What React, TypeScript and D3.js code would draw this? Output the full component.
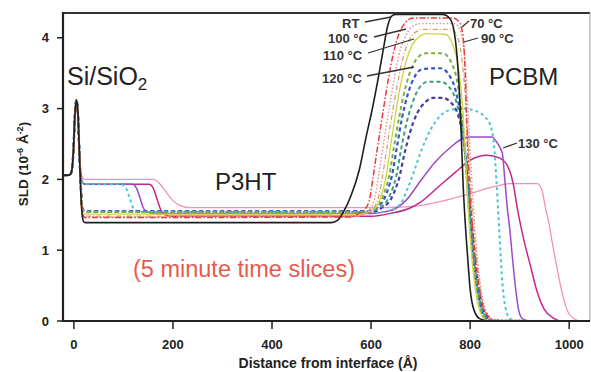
import React from 'react';
import * as d3 from 'd3';

// SLD profiles, [distance (Å), SLD (1e-6 Å^-2)]
const substrate = [[-20, 2.06], [-10, 2.06], [-5, 2.1], [-1, 2.4], [2, 2.9], [5, 3.12], [8, 2.95], [11, 2.4]];

const rt = [...substrate, [14, 1.8], [17, 1.48], [20, 1.4], [24, 1.39], [520, 1.39], [532, 1.42], [545, 1.55], [560, 1.78], [576, 2.13], [590, 2.6], [602, 2.98], [615, 3.45], [625, 3.85], [634, 4.18], [642, 4.31], [650, 4.33], [745, 4.33], [758, 4.28], [766, 4.15], [774, 3.7], [780, 3.0], [786, 1.9], [790, 1.4], [795, 0.9], [800, 0.45], [808, 0.15], [820, 0.03], [840, 0], [1040, 0]];
const t70 = [...substrate, [14, 1.85], [17, 1.52], [20, 1.47], [24, 1.46], [560, 1.47], [575, 1.52], [590, 1.6], [598, 1.75], [604, 2.03], [614, 2.5], [624, 2.95], [634, 3.38], [645, 3.78], [656, 4.05], [670, 4.22], [685, 4.28], [765, 4.28], [778, 4.22], [786, 4.0], [790, 3.5], [794, 2.6], [798, 2.0], [804, 1.4], [812, 0.8], [822, 0.32], [835, 0.08], [850, 0.01], [1040, 0]];
const t90 = [...substrate, [14, 1.85], [17, 1.53], [20, 1.48], [24, 1.47], [560, 1.47], [580, 1.5], [598, 1.58], [608, 1.75], [614, 2.0], [624, 2.45], [634, 2.9], [645, 3.35], [656, 3.75], [668, 4.0], [682, 4.15], [700, 4.2], [768, 4.2], [780, 4.1], [788, 3.8], [794, 3.2], [800, 2.4], [806, 1.7], [812, 1.1], [820, 0.55], [832, 0.15], [848, 0.02], [1040, 0]];
const t100 = [...substrate, [14, 1.86], [17, 1.54], [20, 1.49], [24, 1.48], [570, 1.48], [590, 1.52], [606, 1.6], [616, 1.78], [622, 2.0], [632, 2.45], [642, 2.9], [652, 3.3], [662, 3.65], [674, 3.92], [690, 4.08], [705, 4.12], [762, 4.12], [775, 4.0], [785, 3.6], [792, 3.0], [798, 2.3], [804, 1.6], [812, 0.95], [822, 0.38], [835, 0.08], [850, 0], [1040, 0]];
const t110 = [...substrate, [14, 1.88], [17, 1.57], [20, 1.52], [24, 1.51], [580, 1.51], [600, 1.55], [614, 1.65], [624, 1.85], [630, 2.03], [640, 2.5], [650, 2.95], [660, 3.35], [670, 3.65], [683, 3.9], [700, 4.03], [712, 4.06], [750, 4.05], [765, 3.9], [776, 3.6], [784, 3.1], [790, 2.4], [796, 1.6], [804, 0.85], [814, 0.3], [826, 0.05], [840, 0], [1040, 0]];
const t115 = [...substrate, [14, 1.9], [17, 1.6], [20, 1.55], [24, 1.54], [585, 1.54], [605, 1.58], [620, 1.7], [630, 1.88], [636, 2.03], [646, 2.45], [656, 2.85], [666, 3.2], [678, 3.5], [692, 3.7], [710, 3.78], [745, 3.78], [762, 3.65], [776, 3.3], [786, 2.7], [792, 2.1], [798, 1.5], [806, 0.85], [816, 0.32], [828, 0.06], [840, 0], [1040, 0]];
const t120 = [...substrate, [14, 1.9], [17, 1.6], [20, 1.56], [24, 1.55], [590, 1.55], [610, 1.6], [626, 1.72], [636, 1.9], [642, 2.05], [652, 2.45], [662, 2.85], [674, 3.2], [688, 3.45], [705, 3.56], [740, 3.57], [758, 3.47], [772, 3.22], [784, 2.75], [792, 2.2], [799, 1.5], [807, 0.85], [818, 0.3], [830, 0.05], [845, 0], [1040, 0]];
const t122 = [...substrate, [14, 1.9], [17, 1.6], [20, 1.56], [24, 1.55], [595, 1.55], [618, 1.6], [634, 1.72], [644, 1.88], [650, 2.02], [660, 2.4], [670, 2.75], [682, 3.05], [696, 3.28], [715, 3.38], [740, 3.38], [758, 3.3], [772, 3.1], [784, 2.7], [793, 2.15], [800, 1.5], [809, 0.8], [820, 0.28], [833, 0.05], [845, 0], [1040, 0]];
const t124 = [...substrate, [14, 1.9], [17, 1.6], [20, 1.55], [24, 1.54], [600, 1.54], [622, 1.6], [640, 1.72], [650, 1.88], [656, 2.0], [666, 2.32], [678, 2.65], [692, 2.92], [708, 3.08], [725, 3.15], [745, 3.15], [762, 3.08], [776, 2.9], [787, 2.55], [795, 2.05], [802, 1.45], [811, 0.78], [822, 0.28], [836, 0.05], [850, 0], [1040, 0]];
const t126 = [...substrate, [14, 2.05], [18, 1.95], [22, 1.93], [95, 1.93], [105, 1.88], [112, 1.75], [118, 1.62], [126, 1.56], [135, 1.54], [620, 1.54], [645, 1.58], [660, 1.66], [672, 1.84], [685, 2.08], [700, 2.38], [720, 2.7], [740, 2.9], [760, 2.98], [785, 3.0], [810, 2.97], [830, 2.88], [840, 2.78], [848, 2.5], [853, 2.0], [857, 1.5], [861, 1.0], [865, 0.55], [871, 0.2], [880, 0.04], [890, 0], [1040, 0]];
const t130 = [...substrate, [14, 2.05], [18, 1.95], [22, 1.93], [118, 1.93], [126, 1.88], [133, 1.75], [140, 1.6], [148, 1.54], [158, 1.52], [600, 1.52], [640, 1.56], [670, 1.7], [700, 1.98], [730, 2.25], [760, 2.45], [786, 2.58], [800, 2.6], [844, 2.6], [856, 2.5], [865, 2.37], [870, 2.0], [875, 1.6], [880, 1.3], [886, 0.85], [892, 0.45], [898, 0.15], [906, 0.03], [920, 0], [1040, 0]];
const t135 = [...substrate, [14, 2.05], [18, 1.95], [22, 1.93], [152, 1.93], [160, 1.88], [168, 1.72], [176, 1.56], [185, 1.5], [195, 1.48], [600, 1.48], [640, 1.52], [680, 1.6], [700, 1.68], [740, 1.92], [770, 2.1], [800, 2.27], [834, 2.34], [860, 2.3], [877, 2.17], [888, 1.9], [895, 1.6], [902, 1.35], [910, 1.1], [921, 0.8], [935, 0.42], [950, 0.16], [968, 0.04], [985, 0], [1040, 0]];
const t140 = [...substrate, [14, 2.1], [18, 2.02], [22, 2.0], [160, 2.0], [172, 1.95], [185, 1.83], [200, 1.7], [215, 1.63], [235, 1.6], [620, 1.6], [660, 1.61], [699, 1.63], [760, 1.72], [800, 1.8], [850, 1.9], [880, 1.94], [935, 1.94], [945, 1.85], [952, 1.6], [958, 1.42], [966, 1.1], [974, 0.8], [984, 0.45], [996, 0.15], [1008, 0.04], [1025, 0], [1040, 0]];

const xTicks = [0, 200, 400, 600, 800, 1000];
const yTicks = [0, 1, 2, 3, 4];

const series = [
  { data: t140, color: '#f291bb', width: 1.3, dash: null },
  { data: t135, color: '#c2288c', width: 1.5, dash: null },
  { data: t130, color: '#9a4ac8', width: 1.5, dash: null },
  { data: t126, color: '#4cc6cf', width: 2, dash: '3,3' },
  { data: t124, color: '#4a3aa8', width: 2.2, dash: '4,3' },
  { data: t122, color: '#36a07e', width: 2, dash: '4,3' },
  { data: t120, color: '#3556cc', width: 2.2, dash: '4,3' },
  { data: t115, color: '#78b43c', width: 2, dash: '4,3' },
  { data: t110, color: '#cfd447', width: 1.3, dash: null },
  { data: t100, color: '#d2a46c', width: 1.3, dash: '5,2,1,2' },
  { data: t90, color: '#e8929a', width: 1.5, dash: '1.5,2' },
  { data: t70, color: '#e63c3c', width: 1.5, dash: '6,2,1.5,2' },
  { data: rt, color: '#1e1e1e', width: 1.6, dash: null },
];

const labels = [
  { text: 'RT', x: 342, y: 28, lx1: 365, ly1: 22, lx2: 391, ly2: 17 },
  { text: '100 °C', x: 328, y: 43, lx1: 374, ly1: 37, lx2: 406, ly2: 29 },
  { text: '110 °C', x: 323, y: 60, lx1: 368, ly1: 53, lx2: 414, ly2: 39 },
  { text: '120 °C', x: 322, y: 83, lx1: 367, ly1: 76, lx2: 414, ly2: 67 },
  { text: '70 °C', x: 470, y: 28, lx1: 462, ly1: 27, lx2: 469, ly2: 21 },
  { text: '90 °C', x: 481, y: 43, lx1: 464, ly1: 42, lx2: 478, ly2: 38 },
  { text: '130 °C', x: 518, y: 148, lx1: 503, ly1: 148, lx2: 517, ly2: 143 },
];

const W = 591, H = 372;
const left = 63, right = 590, top = 13, bottom = 321;

export default function App() {
  const x = d3.scaleLinear().domain([-22, 1042]).range([left, right]);
  const y = d3.scaleLinear().domain([0, 4.35]).range([bottom, top]);
  const line = d3.line<number[]>().x(d => x(d[0])).y(d => y(d[1])).curve(d3.curveMonotoneX);
  const font = 'Liberation Sans, Arial, sans-serif';

  return (
    <svg width={W} height={H} style={{ position: 'absolute', left: 0, top: 0, background: '#fff' }} fontFamily={font}>
      <defs>
        <clipPath id="plot">
          <rect x={left} y={top} width={right - left} height={bottom - top} />
        </clipPath>
      </defs>
      <g clipPath="url(#plot)">
        {series.map((s, i) => (
          <path key={i} d={line(s.data) || ''} fill="none" stroke={s.color} strokeWidth={s.width}
            strokeDasharray={s.dash || undefined} strokeLinejoin="round" />
        ))}
      </g>

      {/* frame */}
      <line x1={left} y1={top} x2={right} y2={top} stroke="#333" strokeWidth={2} />
      <line x1={right} y1={top} x2={right} y2={bottom} stroke="#999" strokeWidth={1} />
      <line x1={left} y1={top - 1} x2={left} y2={bottom + 1} stroke="#222" strokeWidth={2.2} />
      <line x1={left - 1} y1={bottom} x2={right} y2={bottom} stroke="#222" strokeWidth={2.2} />

      {yTicks.map(t => (
        <g key={t}>
          <line x1={left - 6} x2={left} y1={y(t)} y2={y(t)} stroke="#222" strokeWidth={1.5} />
          <text x={left - 14} y={y(t) + 4.5} textAnchor="end" fontSize={13} fontWeight="bold" fill="#222">{t}</text>
        </g>
      ))}
      {xTicks.map(t => (
        <g key={t}>
          <line x1={x(t)} x2={x(t)} y1={bottom} y2={bottom + 8} stroke="#222" strokeWidth={1.5} />
          <text x={x(t)} y={bottom + 28} textAnchor="middle" fontSize={13} fontWeight="bold" fill="#222">{t}</text>
        </g>
      ))}
      <text x={328} y={368} textAnchor="middle" fontSize={14} fontWeight="bold" fill="#222">Distance from interface (Å)</text>
      <text transform="translate(28,164) rotate(-90)" textAnchor="middle" fontSize={13.5} fontWeight="bold" fill="#222">
        SLD (10<tspan dy={-5} fontSize={9}>-6</tspan><tspan dy={5}> Å</tspan><tspan dy={-5} fontSize={9}>-2</tspan><tspan dy={5}>)</tspan>
      </text>

      <text x={67} y={85} fontSize={25} fill="#222">Si/SiO<tspan dy={5} fontSize={17}>2</tspan></text>
      <text x={215} y={190} fontSize={24} fill="#222">P3HT</text>
      <text x={489} y={85} fontSize={24} fill="#222">PCBM</text>
      <text x={133} y={277} fontSize={23.5} fill="#e85a4c">(5 minute time slices)</text>

      {labels.map(l => (
        <g key={l.text}>
          <line x1={l.lx1} y1={l.ly1} x2={l.lx2} y2={l.ly2} stroke="#333" strokeWidth={1.3} />
          <text x={l.x} y={l.y} fontSize={13} fontWeight="bold" fill="#333">{l.text}</text>
        </g>
      ))}
    </svg>
  );
}
